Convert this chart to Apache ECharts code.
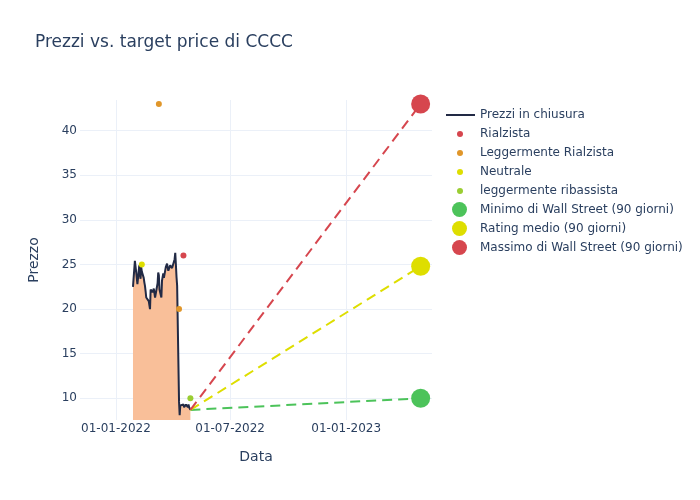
<!DOCTYPE html>
<html>
<head>
<meta charset="utf-8">
<script src="https://cdn.jsdelivr.net/npm/echarts@6/dist/echarts.min.js"></script>
<style>
html,body{margin:0;padding:0;background:#fff;}
#chart{width:700px;height:500px;}
</style>
</head>
<body>
<div id="chart"></div>
<script>
const priceDates = [
  '2022-01-28','2022-01-31','2022-02-01','2022-02-02','2022-02-03','2022-02-04',
  '2022-02-07','2022-02-08','2022-02-09','2022-02-10','2022-02-11',
  '2022-02-14','2022-02-15','2022-02-16','2022-02-17','2022-02-18',
  '2022-02-22','2022-02-23','2022-02-24','2022-02-25',
  '2022-02-28','2022-03-01','2022-03-02','2022-03-03','2022-03-04',
  '2022-03-07','2022-03-08','2022-03-09','2022-03-10','2022-03-11',
  '2022-03-14','2022-03-15','2022-03-16','2022-03-17','2022-03-18',
  '2022-03-21','2022-03-22','2022-03-23','2022-03-24','2022-03-25',
  '2022-03-28','2022-03-29','2022-03-30','2022-03-31','2022-04-01',
  '2022-04-04','2022-04-05','2022-04-06','2022-04-07','2022-04-08',
  '2022-04-11','2022-04-12','2022-04-13','2022-04-14',
  '2022-04-18','2022-04-19','2022-04-20','2022-04-21','2022-04-22',
  '2022-04-25','2022-04-26','2022-04-27','2022-04-28','2022-04-29'
];
const priceValues = [
  22.5, 25.4, 25.3, 24.2, 23.5, 22.8,
  24.9, 23.9, 23.4, 24.7, 24.2,
  23.5, 23.0, 22.6, 22.0, 21.3,
  20.9, 20.8, 20.0, 22.2,
  21.9, 22.0, 22.3, 21.8, 21.3,
  21.1, 22.9, 24.1, 23.8, 22.2,
  21.3, 23.2, 23.6, 24.0, 23.5,
  24.7, 24.9, 25.1, 24.9, 24.3,
  24.9, 25.1, 25.0, 24.6, 24.5,
  25.6, 26.3, 25.0, 23.6, 22.6,
  9.6, 8.1, 9.2, 9.0,
  9.3, 9.0, 9.2, 9.0, 9.3,
  9.0, 9.3, 9.0, 8.9, 8.7
];

const rialzistaDates = ['2022-04-18'];
const rialzistaValues = [26.0];
const legRialzistaDates = ['2022-03-10', '2022-04-11'];
const legRialzistaValues = [43.0, 20.0];
const neutraleDates = ['2022-02-11'];
const neutraleValues = [25.0];
const legRibassistaDates = ['2022-04-29'];
const legRibassistaValues = [10.0];

const targetDate = '2023-04-29';
const targetLow = 10.0;
const targetAvg = 24.8;
const targetHigh = 43.0;

const yTicks = [10, 15, 20, 25, 30, 35, 40];
const xTickDates = ['2022-01-01', '2022-07-01', '2023-01-01'];
const xMinDate = '2021-11-05';
const xMaxDate = '2023-05-17';

const ts = s => Date.UTC(+s.slice(0, 4), +s.slice(5, 7) - 1, +s.slice(8, 10));
const pairs = (d, v) => d.map((x, i) => [ts(x), v[i]]);
const lastDate = priceDates[priceDates.length - 1];
const lastPrice = priceValues[priceValues.length - 1];
const xTickValues = xTickDates.map(ts);

const FONT = 'DejaVu Sans';
const TXT = '#2a3f5f';
const LINE = '#222a45';
const RED = '#d6464e';
const YEL = '#dede00';
const GRN = '#4cc35a';

const chart = echarts.init(document.getElementById('chart'), null, {renderer: 'canvas'});
const pad2 = n => (n < 10 ? '0' : '') + n;

chart.setOption({
  backgroundColor: '#ffffff',
  animation: false,
  textStyle: {fontFamily: FONT},
  title: {
    text: 'Prezzi vs. target price di CCCC',
    left: 35, top: 34, padding: 0,
    textStyle: {fontFamily: FONT, fontSize: 17, fontWeight: 'normal', color: TXT}
  },
  legend: [
    {
      data: [{name: 'Prezzi in chiusura', icon: 'rect', itemStyle: {color: LINE}}],
      orient: 'vertical', left: 446, top: 108, padding: 0,
      itemWidth: 29, itemHeight: 2, itemGap: 5,
      textStyle: {fontFamily: FONT, fontSize: 12, color: TXT, lineHeight: 14}
    },
    {
      data: ['Rialzista', 'Leggermente Rialzista', 'Neutrale', 'leggermente ribassista'],
      orient: 'vertical', left: 457, top: 127, padding: 0,
      itemWidth: 6, itemHeight: 14, itemGap: 5,
      textStyle: {fontFamily: FONT, fontSize: 12, color: TXT, lineHeight: 14, padding: [0, 0, 0, 12]}
    },
    {
      data: ['Minimo di Wall Street (90 giorni)', 'Rating medio (90 giorni)', 'Massimo di Wall Street (90 giorni)'],
      orient: 'vertical', left: 452, top: 202, padding: 0,
      itemWidth: 15, itemHeight: 15, itemGap: 4,
      textStyle: {fontFamily: FONT, fontSize: 12, color: TXT, lineHeight: 14, padding: [0, 0, 0, 8]}
    }
  ],
  grid: {left: 80, right: 268, top: 100, bottom: 80, containLabel: false},
  xAxis: {
    type: 'value',
    min: ts(xMinDate),
    max: ts(xMaxDate),
    name: 'Data',
    nameLocation: 'middle',
    nameGap: 30,
    nameTextStyle: {fontFamily: FONT, fontSize: 14, color: TXT},
    axisLine: {show: false},
    axisTick: {show: false, customValues: xTickValues},
    axisLabel: {
      customValues: xTickValues,
      margin: 3,
      fontFamily: FONT, fontSize: 12, color: TXT,
      formatter: function (v) {
        const d = new Date(v);
        return pad2(d.getUTCDate()) + '-' + pad2(d.getUTCMonth() + 1) + '-' + d.getUTCFullYear();
      }
    },
    splitLine: {show: true, lineStyle: {color: '#ebf0f8', width: 1}}
  },
  yAxis: {
    type: 'value',
    min: 7.57,
    max: 43.44,
    name: 'Prezzo',
    nameLocation: 'middle',
    nameGap: 39,
    nameTextStyle: {fontFamily: FONT, fontSize: 14, color: TXT},
    axisLine: {show: false},
    axisTick: {show: false, customValues: yTicks},
    axisLabel: {customValues: yTicks, margin: 3, fontFamily: FONT, fontSize: 12, color: TXT},
    splitLine: {show: true, lineStyle: {color: '#ebf0f8', width: 1}}
  },
  series: [
    {
      name: 'Prezzi in chiusura',
      type: 'line',
      data: pairs(priceDates, priceValues),
      symbol: 'none',
      lineStyle: {color: LINE, width: 2},
      itemStyle: {color: LINE},
      areaStyle: {color: '#f9bf99', opacity: 1, origin: 'start'},
      z: 2
    },
    {
      name: 'Rialzista', type: 'scatter', symbolSize: 6,
      data: pairs(rialzistaDates, rialzistaValues),
      itemStyle: {color: RED, opacity: 1}, z: 5
    },
    {
      name: 'Leggermente Rialzista', type: 'scatter', symbolSize: 6,
      data: pairs(legRialzistaDates, legRialzistaValues),
      itemStyle: {color: '#e0962a', opacity: 1}, z: 5
    },
    {
      name: 'Neutrale', type: 'scatter', symbolSize: 6,
      data: pairs(neutraleDates, neutraleValues),
      itemStyle: {color: YEL, opacity: 1}, z: 5
    },
    {
      name: 'leggermente ribassista', type: 'scatter', symbolSize: 6,
      data: pairs(legRibassistaDates, legRibassistaValues),
      itemStyle: {color: '#9acd32', opacity: 1}, z: 5
    },
    {
      name: 'lineLow', type: 'line', symbol: 'none',
      data: [[ts(lastDate), lastPrice], [ts(targetDate), targetLow]],
      lineStyle: {color: GRN, width: 2, type: [10, 6]}, z: 4
    },
    {
      name: 'lineAvg', type: 'line', symbol: 'none',
      data: [[ts(lastDate), lastPrice], [ts(targetDate), targetAvg]],
      lineStyle: {color: YEL, width: 2, type: [10, 6]}, z: 4
    },
    {
      name: 'lineHigh', type: 'line', symbol: 'none',
      data: [[ts(lastDate), lastPrice], [ts(targetDate), targetHigh]],
      lineStyle: {color: RED, width: 2, type: [10, 6]}, z: 4
    },
    {
      name: 'Minimo di Wall Street (90 giorni)', type: 'scatter', symbolSize: 19,
      data: [[ts(targetDate), targetLow]],
      itemStyle: {color: GRN, opacity: 1}, z: 6
    },
    {
      name: 'Rating medio (90 giorni)', type: 'scatter', symbolSize: 19,
      data: [[ts(targetDate), targetAvg]],
      itemStyle: {color: YEL, opacity: 1}, z: 6
    },
    {
      name: 'Massimo di Wall Street (90 giorni)', type: 'scatter', symbolSize: 19,
      data: [[ts(targetDate), targetHigh]],
      itemStyle: {color: RED, opacity: 1}, z: 6
    }
  ]
});
</script>
</body>
</html>
